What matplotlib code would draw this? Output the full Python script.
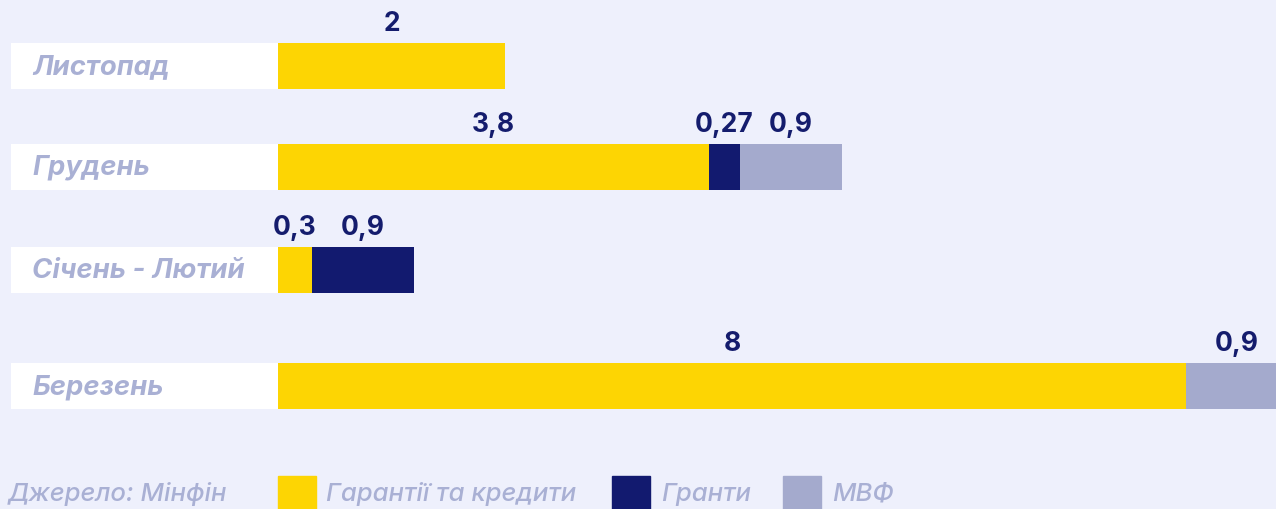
import matplotlib.pyplot as plt
from matplotlib.patches import Rectangle

# data
months = ["Листопад", "Грудень", "Січень - Лютий", "Березень"]
guarantees = [2, 3.8, 0.3, 8]
grants = [0, 0.27, 0.9, 0]
imf = [0, 0.9, 0, 0.9]
series_names = ["Гарантії та кредити", "Гранти", "МВФ"]
source = "Джерело: Мінфін"

# style
BG = "#EEF0FC"
YELLOW = "#FDD503"
NAVY = "#121A6F"
GREY = "#A4AACD"
LABEL = "#A9B0D4"
VALUE = "#141C6D"

W, H = 1276, 509
px_per_unit = 113.5          # bar scale in pixels per unit
x0 = 278                      # pixel where bars start
row_y = [66, 167, 270, 386]   # row centres in pixels (from top)
bar_h = 46

plt.rcParams['font.family'] = ['Inter', 'DejaVu Sans']

fig = plt.figure(figsize=(W / 100, H / 100), dpi=100)
fig.patch.set_facecolor(BG)
ax = fig.add_axes([0, 0, 1, 1])
ax.set_facecolor(BG)
ax.set_xlim(-x0 / px_per_unit, (W - x0) / px_per_unit)
ax.set_ylim(H, 0)
ax.axis("off")

# white label boxes
box_left = -(x0 - 11) / px_per_unit
ax.barh(row_y, [-box_left] * len(row_y), left=box_left, height=bar_h,
        color="white", edgecolor="none")

left = [0] * len(months)
for vals, col in zip([guarantees, grants, imf], [YELLOW, NAVY, GREY]):
    ax.barh(row_y, vals, left=left, height=bar_h, color=col, edgecolor="none")
    for y, l, v in zip(row_y, left, vals):
        if v > 0:
            ax.text(l + v / 2, y - bar_h / 2 - 6, f"{v:g}".replace(".", ","),
                    ha="center", va="bottom", fontsize=19, fontweight="bold",
                    color=VALUE)
    left = [a + b for a, b in zip(left, vals)]

for y, m in zip(row_y, months):
    ax.text(box_left + 21 / px_per_unit, y + 1, m, ha="left", va="center",
            fontsize=19.8, fontstyle="italic", fontweight="bold", color=LABEL)

# legend row at the bottom
fig.text(8 / W, 1 - 494 / H, source, ha="left", va="center", fontsize=18.5,
         fontstyle="italic", fontweight="medium", color=LABEL)
for (sx, tx), name, col in zip([(278, 326), (612, 661), (783, 832)],
                               series_names, [YELLOW, NAVY, GREY]):
    fig.patches.append(Rectangle((sx / W, 0), 38 / W, 33 / H,
                                 transform=fig.transFigure, color=col))
    fig.text(tx / W, 1 - 494 / H, name, ha="left", va="center", fontsize=18.5,
             fontstyle="italic", fontweight="medium", color=LABEL)

fig.savefig("out.png", dpi=100, facecolor=BG)
